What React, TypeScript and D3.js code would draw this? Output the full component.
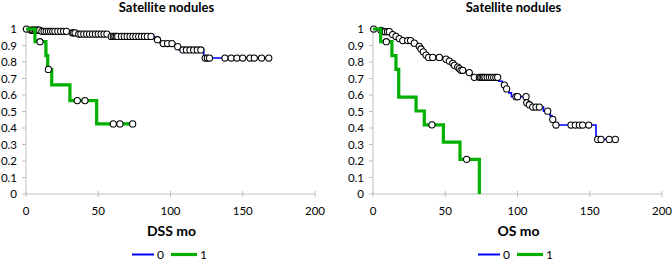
import React from "react";
import * as d3 from "d3";

// ---- data ----
const xTicks = [0, 50, 100, 150, 200];
const yTicks = [0, 0.1, 0.2, 0.3, 0.4, 0.5, 0.6, 0.7, 0.8, 0.9, 1];
const yTickLabels = ["0", "0.1", "0.2", "0.3", "0.4", "0.5", "0.6", "0.7", "0.8", "0.9", "1"];
const groupLabels = ["0", "1"];
const panelTitles = ["Satellite nodules", "Satellite nodules"];
const axisTitles = ["DSS mo", "OS mo"];

// DSS, group 0
const dss0StepTimes = [3, 10.5, 31, 36, 58, 89, 93, 103, 106, 123];
const dss0StepSurv = [0.993, 0.986, 0.977, 0.969, 0.955, 0.935, 0.912, 0.893, 0.873, 0.824];
const dss0Censored = [
  0.3, 3.5, 4.5, 5.5, 6.5, 7.5, 8.5, 9.5, 11, 12.5, 14, 15.5, 17, 18.5, 20, 22, 24, 26, 28, 32, 33, 34,
  36.5, 38, 40, 42, 44, 46, 48, 50, 52, 54, 56, 59, 60.5, 61.5, 62.5, 63.5, 66, 68, 70, 72, 74,
  76, 78, 80, 82, 84, 86.5, 91, 95, 98, 101, 105, 108.6, 111, 113.5, 116, 118.5, 121,
  124, 125.5, 127, 137.7, 142, 146, 150, 155, 158, 163, 168,
];
// DSS, group 1
const dss1StepTimes = [6.2, 13.8, 15, 17.8, 30.4, 48.9];
const dss1StepSurv = [0.923, 0.839, 0.755, 0.661, 0.566, 0.425];
const dss1Censored = [9.7, 15.5, 35.5, 40.8, 60.4, 65, 73.8];

// OS, group 0
const os0StepTimes = [
  3, 6.5, 12.5, 14.8, 17.2, 19.5, 27.5, 31, 32.7, 34.2, 36, 38, 48, 52, 54.5, 55.8, 57.8,
  59.2, 60.4, 64, 68.5, 69.5, 87.2, 89.5, 92, 94, 95.8, 106.1, 107.6, 109.5, 118, 122.5,
  123.8, 125.5, 126.2, 154.3,
];
const os0StepSurv = [
  0.992, 0.984, 0.966, 0.955, 0.942, 0.93, 0.914, 0.895, 0.879, 0.862, 0.842, 0.828, 0.817,
  0.806, 0.792, 0.78, 0.769, 0.76, 0.75, 0.736, 0.722, 0.707, 0.683, 0.66, 0.637, 0.613,
  0.59, 0.553, 0.541, 0.527, 0.502, 0.475, 0.452, 0.435, 0.418, 0.331,
];
const os0Censored = [
  0.5, 5.5, 7, 8.5, 10, 11.3, 13.6, 15.9, 18.2, 20.6, 24, 26, 28.6, 32, 33.2, 34.8, 36.7,
  38.5, 41.3, 45.9, 50.5, 52.8, 55.2, 56.3, 58.6, 59.7, 60.9, 62.1, 66.6, 70.1, 73.6, 74.5, 75.5,
  76.5, 77.5, 79, 80.5, 82, 83.5, 85, 86.3, 90.9, 92.5, 99, 100.1, 105.9, 106.4, 108.2, 110.5,
  112.8, 115.1, 120.9, 124.4, 126.6, 137, 140, 142.8, 145.1, 149.3, 155.5, 157.8, 163.5,
  167.7,
];
// OS, group 1
const os1StepTimes = [5.3, 13.1, 15.9, 17.8, 29.8, 35.5, 48.7, 60.2, 73.6];
const os1StepSurv = [0.923, 0.839, 0.755, 0.587, 0.503, 0.419, 0.315, 0.21, 0];
const os1Censored = [9.2, 40.8, 64.8];

const colors = ["#0000ff", "#00b000"];
const widths = [1.6, 3.2];

type Curve = { times: number[]; surv: number[]; censored: number[] };

const panels: { curves: Curve[] }[] = [
  {
    curves: [
      { times: dss0StepTimes, surv: dss0StepSurv, censored: dss0Censored },
      { times: dss1StepTimes, surv: dss1StepSurv, censored: dss1Censored },
    ],
  },
  {
    curves: [
      { times: os0StepTimes, surv: os0StepSurv, censored: os0Censored },
      { times: os1StepTimes, surv: os1StepSurv, censored: os1Censored },
    ],
  },
];

const FONT = "Lato, 'Open Sans', sans-serif";

function survAt(c: Curve, t: number) {
  let v = 1;
  for (let i = 0; i < c.times.length; i++) if (c.times[i] <= t) v = c.surv[i];
  return v;
}

function Panel({ idx, left }: { idx: number; left: number }) {
  const x = d3.scaleLinear().domain([0, 200]).range([left, left + 289]);
  const y = d3.scaleLinear().domain([0, 1]).range([194, 29]);
  const axisColor = "#bfbfbf";
  const line = d3
    .line<[number, number]>()
    .x((d) => x(d[0]))
    .y((d) => y(d[1]))
    .curve(d3.curveStepAfter);
  const cx = left + 144.5;
  const legendX = idx === 0 ? 132 : 478;
  return (
    <g>
      <text x={cx - 4} y={12} textAnchor="middle" fontFamily={FONT} fontWeight="bold" fontSize={13} fill="#000">
        {panelTitles[idx]}
      </text>
      {/* axes */}
      <line x1={x(0)} x2={x(200)} y1={y(0)} y2={y(0)} stroke={axisColor} strokeWidth={1} />
      <line x1={x(0)} x2={x(0)} y1={y(0)} y2={y(1)} stroke={axisColor} strokeWidth={1} />
      {yTicks.map((t, i) => (
        <g key={"y" + i}>
          <line x1={x(0) - 4} x2={x(0)} y1={y(t)} y2={y(t)} stroke={axisColor} />
          <text
            x={x(0) - 9}
            y={y(t)}
            dy="0.36em"
            textAnchor="end"
            fontFamily={FONT}
            fontSize={11.5}
            fill="#000"
          >
            {yTickLabels[i]}
          </text>
        </g>
      ))}
      {xTicks.map((t, i) => (
        <g key={"x" + i}>
          <line x1={x(t)} x2={x(t)} y1={y(0) - 3} y2={y(0) + 3} stroke={axisColor} />
          <text x={x(t)} y={215} textAnchor="middle" fontFamily={FONT} fontSize={11.5} fill="#000">
            {t}
          </text>
        </g>
      ))}
      <text x={cx + 1} y={235.5} textAnchor="middle" fontFamily={FONT} fontWeight="bold" fontSize={14} fill="#000">
        {axisTitles[idx]}
      </text>
      {/* curves */}
      {panels[idx].curves.map((c, ci) => {
        const end = Math.max(c.times[c.times.length - 1], c.censored[c.censored.length - 1]);
        const pts: [number, number][] = [[0, 1]];
        c.times.forEach((t, i) => pts.push([t, c.surv[i]]));
        pts.push([end, c.surv[c.surv.length - 1]]);
        return (
          <g key={"c" + ci}>
            <path d={line(pts) || ""} fill="none" stroke={colors[ci]} strokeWidth={widths[ci]} />
            {c.censored.map((t, k) => (
              <circle key={k} cx={x(t)} cy={y(survAt(c, t))} r={3.1} fill="#fff" stroke="#000" strokeWidth={1.05} />
            ))}
          </g>
        );
      })}
      {/* legend */}
      {groupLabels.map((g, gi) => {
        const lx = legendX + gi * 39;
        const len = gi === 0 ? 22 : 26;
        return (
          <g key={"l" + gi}>
            <line x1={lx} x2={lx + len} y1={254.5} y2={254.5} stroke={colors[gi]} strokeWidth={gi === 0 ? 2 : 3.2} />
            <text x={lx + len + 3} y={258.5} fontFamily={FONT} fontSize={12} fill="#000">
              {g}
            </text>
          </g>
        );
      })}
    </g>
  );
}

export default function App() {
  return (
    <svg
      width={672}
      height={268}
      style={{ position: "absolute", left: 0, top: 0, background: "#fff" }}
    >
      <rect x={0} y={0} width={672} height={268} fill="#fff" />
      <Panel idx={0} left={26} />
      <Panel idx={1} left={373} />
    </svg>
  );
}
